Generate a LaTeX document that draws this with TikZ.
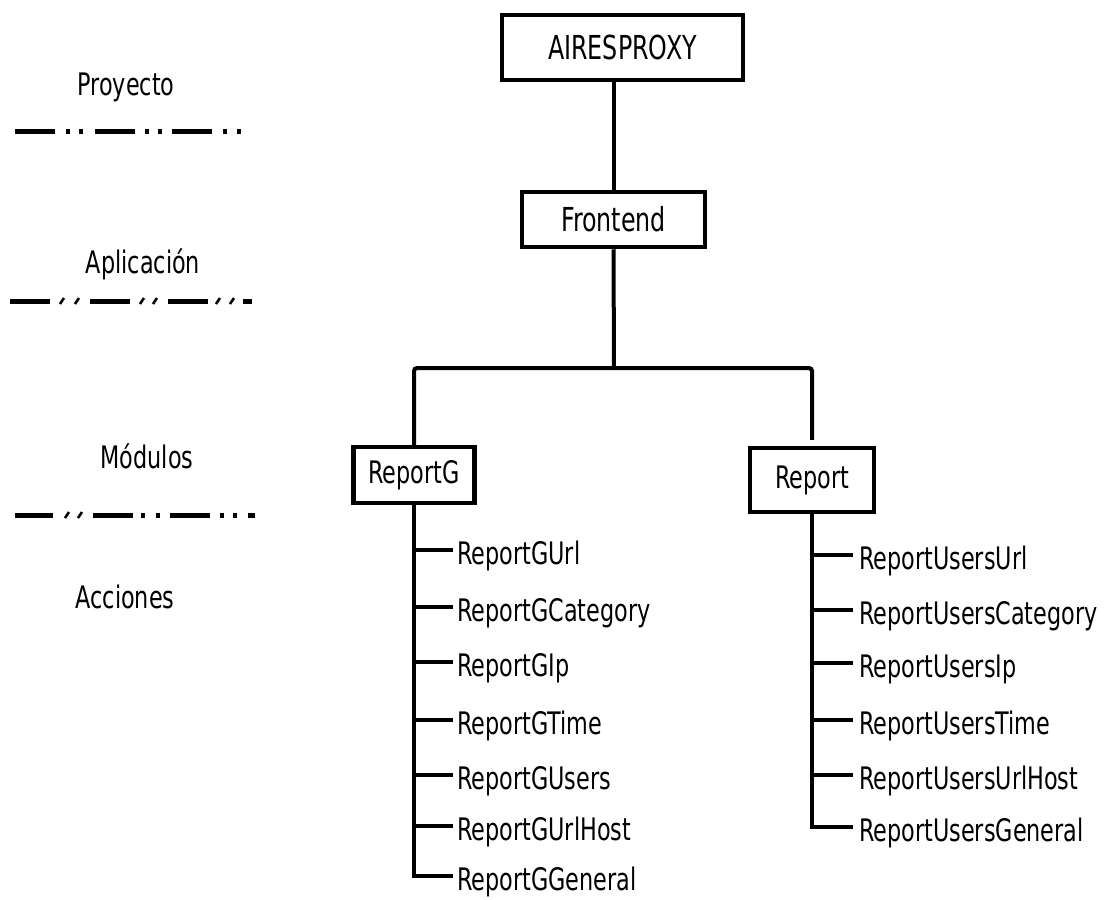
\documentclass[tikz,border=0pt]{standalone}
\usepackage{fontspec}
\setmainfont{DejaVu Sans}[FakeStretch=0.72]
\usetikzlibrary{calc}
\begin{document}
\begin{tikzpicture}[x=1pt,y=-1pt,
  box/.style={draw,line width=4.5pt,inner sep=0pt,font=\fontsize{31}{31}\selectfont},
  link/.style={line width=4pt},
  leaf/.style={anchor=west,inner ysep=0pt,text height=28pt,text depth=0pt,font=\fontsize{31}{31}\selectfont},
  legendtext/.style={anchor=base,inner sep=0pt,font=\fontsize{31}{31}\selectfont},
  dashseg/.style={line width=5pt},
  slashseg/.style={line width=2.6pt}]
\useasboundingbox (0,0) rectangle (1112,900);

% tree boxes
\node[box,minimum width=241pt,minimum height=65pt,font=\fontsize{33}{33}\selectfont] (aires) at (622.5,47.5) {AIRESPROXY};
\node[box,minimum width=183pt,minimum height=55pt,font=\fontsize{33}{33}\selectfont] (front) at (613.5,219.5) {Frontend};
\node[box,minimum width=121pt,minimum height=56pt] (repg) at (414,475) {ReportG};
\node[box,minimum width=124pt,minimum height=64pt] (rep) at (812,480) {Report};

% upper connectors
\coordinate (bar) at (614,368);
\draw[link] (front.north) -- (front.north |- aires.south);
\draw[link] (front.south) -- (bar);
\draw[link,rounded corners=3pt] (repg.north) |- (bar) -| ($(rep.north)+(0,-6)$);

% actions of ReportG
\node[leaf,inner xsep=4pt] (g1) at (453,550) {ReportGUrl};
\node[leaf,inner xsep=4pt] (g2) at (453,607) {ReportGCategory};
\node[leaf,inner xsep=4pt] (g3) at (453,662) {ReportGIp};
\node[leaf,inner xsep=4pt] (g4) at (453,720) {ReportGTime};
\node[leaf,inner xsep=4pt] (g5) at (453,775) {ReportGUsers};
\node[leaf,inner xsep=4pt] (g6) at (453,826) {ReportGUrlHost};
\node[leaf,inner xsep=4pt] (g7) at (453,876) {ReportGGeneral};
\draw[link] (repg.south) |- (g7.west);
\foreach \n in {g1,g2,g3,g4,g5,g6}
  \draw[link] (repg.south |- \n.west) -- (\n.west);

% actions of Report
\node[leaf,inner xsep=6pt] (u1) at (853,555) {ReportUsersUrl};
\node[leaf,inner xsep=6pt] (u2) at (853,610) {ReportUsersCategory};
\node[leaf,inner xsep=6pt] (u3) at (853,663) {ReportUsersIp};
\node[leaf,inner xsep=6pt] (u4) at (853,720) {ReportUsersTime};
\node[leaf,inner xsep=6pt] (u5) at (853,775) {ReportUsersUrlHost};
\node[leaf,inner xsep=6pt] (u6) at (853,827) {ReportUsersGeneral};
\draw[link] (rep.south) |- (u6.west);
\foreach \n in {u1,u2,u3,u4,u5}
  \draw[link] (rep.south |- \n.west) -- (\n.west);

% legend labels
\node[legendtext] (lp) at (126,95) {Proyecto};
\node[legendtext] (la) at (143,273) {Aplicación};
\node[legendtext] (lm) at (147,468) {Módulos};
\node[legendtext] (lc) at (125,608) {Acciones};

% legend line: Proyecto
\foreach \a/\b in {15/55,95/135,172/212}
  \draw[dashseg] (\a,131) -- (\b,131);
\foreach \x in {68,81,147,160,225,239}
  \fill (\x-2,128.5) rectangle (\x+2,133.5);

% legend line: Aplicación
\foreach \a/\b in {10/50,90/130,168/208,243/252}
  \draw[dashseg] (\a,301) -- (\b,301);
\foreach \x in {62,77,142,155,218,232}
  \draw[slashseg] (\x-2,304) -- (\x+2,298);

% legend line: Módulos
\foreach \a/\b in {15/53,93/133,170/210,248/255}
  \draw[dashseg] (\a,515) -- (\b,515);
\foreach \x in {67,80}
  \draw[slashseg] (\x-2,518) -- (\x+2,512);
\foreach \x in {143,158,222,235}
  \fill (\x-2,512.5) rectangle (\x+2,517.5);
\end{tikzpicture}
\end{document}
